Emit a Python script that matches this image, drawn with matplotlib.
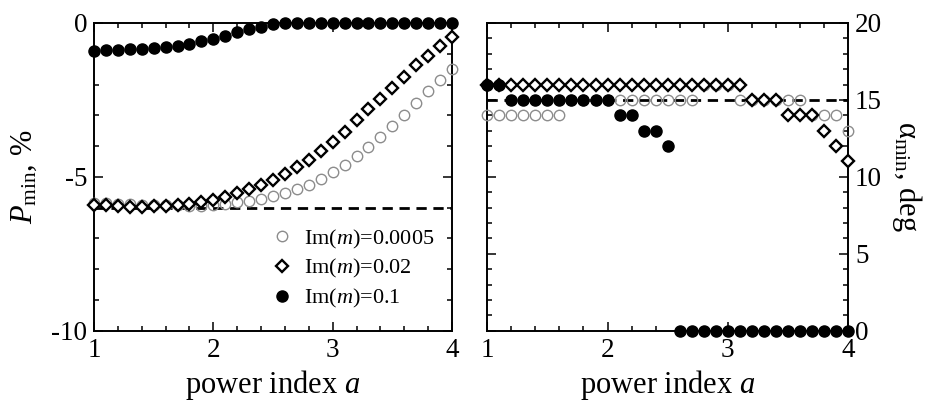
import matplotlib
matplotlib.use('Agg')
import matplotlib.pyplot as plt
from matplotlib.ticker import MultipleLocator, FixedLocator, FixedFormatter

plt.rcParams['font.family'] = ['Liberation Serif', 'DejaVu Serif']
plt.rcParams['mathtext.fontset'] = 'custom'
plt.rcParams['mathtext.rm'] = 'Liberation Serif'
plt.rcParams['mathtext.it'] = 'Liberation Serif:italic'

# power index a
a = [1.0, 1.1, 1.2, 1.3, 1.4, 1.5, 1.6, 1.7, 1.8, 1.9, 2.0,
     2.1, 2.2, 2.3, 2.4, 2.5, 2.6, 2.7, 2.8, 2.9, 3.0,
     3.1, 3.2, 3.3, 3.4, 3.5, 3.6, 3.7, 3.8, 3.9, 4.0]

# P_min, %
p_0005 = [-5.85, -5.85, -5.87, -5.88, -5.90, -5.90, -5.92, -5.93, -5.94, -5.95, -5.93,
          -5.88, -5.82, -5.77, -5.71, -5.63, -5.54, -5.41, -5.25, -5.06, -4.85,
          -4.60, -4.33, -4.02, -3.69, -3.35, -2.99, -2.61, -2.21, -1.85, -1.50]
p_002 = [-5.92, -5.93, -5.95, -5.97, -5.97, -5.96, -5.94, -5.92, -5.87, -5.82, -5.75,
         -5.65, -5.54, -5.41, -5.26, -5.10, -4.91, -4.67, -4.45, -4.16, -3.87,
         -3.53, -3.16, -2.81, -2.47, -2.10, -1.74, -1.38, -1.07, -0.76, -0.47]
p_01 = [-0.90, -0.88, -0.87, -0.86, -0.84, -0.82, -0.79, -0.74, -0.67, -0.60, -0.51,
        -0.41, -0.30, -0.21, -0.12, -0.03, 0, 0, 0, 0, 0,
        0, 0, 0, 0, 0, 0, 0, 0, 0, 0]

# alpha_min, deg
al_0005 = [14, 14, 14, 14, 14, 14, 14, 15, 15, 15, 15,
           15, 15, 15, 15, 15, 15, 15, 16, 16, 16,
           15, 15, 15, 15, 15, 15, 14, 14, 14, 13]
al_002 = [16, 16, 16, 16, 16, 16, 16, 16, 16, 16, 16,
          16, 16, 16, 16, 16, 16, 16, 16, 16, 16,
          16, 15, 15, 15, 14, 14, 14, 13, 12, 11]
al_01 = [16, 16, 15, 15, 15, 15, 15, 15, 15, 15, 15,
         14, 14, 13, 13, 12, 0, 0, 0, 0, 0,
         0, 0, 0, 0, 0, 0, 0, 0, 0, 0]

p_ref = -6
al_ref = 15
labels = ['Im($m$)=0.0005', 'Im($m$)=0.02', 'Im($m$)=0.1']

fig = plt.figure(figsize=(9.28, 4.05), dpi=100)
ax1 = fig.add_axes([0.1013, 0.1835, 0.3858, 0.7598])
ax2 = fig.add_axes([0.5251, 0.1835, 0.3887, 0.7598])

gray_style = dict(ls='none', marker='o', ms=7.5, mfc='none', mec='#8c8c8c', mew=1.0, clip_on=False)
dia_style = dict(ls='none', marker='D', ms=6.2, mfc='white', mec='black', mew=1.7, clip_on=False)
fill_style = dict(ls='none', marker='o', ms=8, mfc='black', mec='black', clip_on=False)

for ax, ref in ((ax1, p_ref), (ax2, al_ref)):
    ax.axhline(ref, color='black', lw=2.0, dashes=(3.7, 2.4), zorder=1)

ax1.plot(a, p_0005, label=labels[0], zorder=3, **gray_style)
ax1.plot(a, p_002, label=labels[1], zorder=4, **dia_style)
ax1.plot(a, p_01, label=labels[2], zorder=5, **fill_style)

ax2.plot(a, al_0005, zorder=3, **gray_style)
ax2.plot(a, al_002, zorder=4, **dia_style)
ax2.plot(a, al_01, zorder=5, **fill_style)

ax1.set_xlim(1, 4)
ax1.set_ylim(-10, 0)
ax2.set_xlim(1, 4)
ax2.set_ylim(0, 20)

for ax in (ax1, ax2):
    ax.xaxis.set_major_locator(MultipleLocator(1))
    ax.xaxis.set_minor_locator(MultipleLocator(0.2))
    ax.yaxis.set_minor_locator(MultipleLocator(1))
    ax.tick_params(which='both', direction='in', top=True, right=True, width=1.1,
                   labelsize=19.5)
    ax.tick_params(which='major', length=6.5, pad=5)
    ax.tick_params(which='minor', length=3.6)
    for sp in ax.spines.values():
        sp.set_linewidth(1.4)
    ax.set_xlabel('power index $a$', fontsize=22, labelpad=4)

ax1.yaxis.set_major_locator(FixedLocator([-10, -5, 0]))
ax1.yaxis.set_major_formatter(FixedFormatter(['-10', '-5', '0']))
ax1.set_ylabel('$P_{\\mathrm{min}}$, %', fontsize=22, labelpad=9)

ax2.yaxis.set_major_locator(MultipleLocator(5))
ax2.tick_params(axis='y', labelleft=False, labelright=True)
ax2.yaxis.set_label_position('right')
ax2.set_ylabel('α$_{\\mathrm{min}}$, deg', fontsize=22, rotation=270, labelpad=30)

ax1.legend(loc='upper left', bbox_to_anchor=(0.494, 0.335), frameon=False, fontsize=16,
           handlelength=1.0, handletextpad=0.5, labelspacing=0.3, borderpad=0,
           borderaxespad=0, numpoints=1)

fig.savefig('out.png', dpi=100)
